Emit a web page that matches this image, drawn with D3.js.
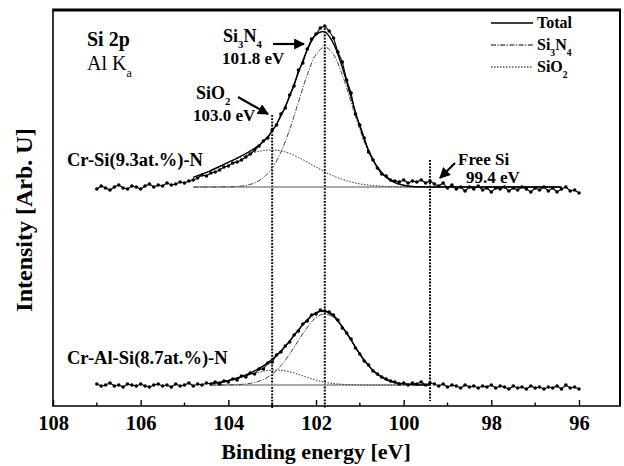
<!DOCTYPE html>
<html>
<head>
<meta charset="utf-8">
<script src="https://cdn.jsdelivr.net/npm/d3@7"></script>
<style>
  body { margin: 0; background: #fff; }
  text { font-family: "Liberation Serif", "Times New Roman", serif; }
</style>
</head>
<body>
<div id="chart"></div>
<script>
// binding energy grid of the measured spectra (eV)
var energy = [
  107.0, 106.9, 106.8, 106.7, 106.6, 106.5, 106.4, 106.3, 106.2, 106.1,
  106.0, 105.9, 105.8, 105.7, 105.6, 105.5, 105.4, 105.3, 105.2, 105.1,
  105.0, 104.9, 104.8, 104.7, 104.6, 104.5, 104.4, 104.3, 104.2, 104.1,
  104.0, 103.9, 103.8, 103.7, 103.6, 103.5, 103.4, 103.3, 103.2, 103.1,
  103.0, 102.9, 102.8, 102.7, 102.6, 102.5, 102.4, 102.3, 102.2, 102.1,
  102.0, 101.9, 101.8, 101.7, 101.6, 101.5, 101.4, 101.3, 101.2, 101.1,
  101.0, 100.9, 100.8, 100.7, 100.6, 100.5, 100.4, 100.3, 100.2, 100.1,
  100.0, 99.9, 99.8, 99.7, 99.6, 99.5, 99.4, 99.3, 99.2, 99.1,
  99.0, 98.9, 98.8, 98.7, 98.6, 98.5, 98.4, 98.3, 98.2, 98.1,
  98.0, 97.9, 97.8, 97.7, 97.6, 97.5, 97.4, 97.3, 97.2, 97.1,
  97.0, 96.9, 96.8, 96.7, 96.6, 96.5, 96.4, 96.3, 96.2, 96.1,
  96.0
];

// Cr-Si(9.3at.%)-N, measured (arb. u.)
var crSiData = [
  217, 220, 218, 216, 219, 221, 218, 217, 220, 219,
  217, 220, 222, 219, 221, 220, 223, 221, 222, 224,
  223, 225, 226, 228, 231, 230, 233, 234, 236, 239,
  240, 243, 244, 246, 249, 252, 256, 260, 265, 268,
  276, 281, 292, 298, 311, 320, 336, 343, 357, 367,
  372, 378, 380, 375, 368, 354, 344, 326, 313, 292,
  281, 268, 254, 246, 238, 232, 230, 226, 225, 224,
  226, 223, 225, 224, 226, 223, 225, 222, 220, 223,
  218, 221, 217, 219, 215, 219, 217, 220, 216, 218,
  214, 218, 217, 219, 215, 218, 216, 219, 217, 214,
  218, 216, 219, 215, 218, 214, 217, 219, 215, 216,
  213
];

// Cr-Al-Si(8.7at.%)-N, measured (arb. u.)
var crAlSiData = [
  22, 20, 21, 23, 20, 21, 19, 22, 21, 20,
  22, 20, 19, 21, 22, 20, 21, 19, 22, 20,
  21, 23, 20, 22, 21, 23, 22, 24, 22, 25,
  24, 27, 26, 30, 29, 33, 32, 37, 37, 43,
  44, 51, 54, 60, 64, 71, 75, 82, 85, 91,
  92, 96, 95, 94, 91, 86, 78, 73, 67, 58,
  52, 45, 41, 35, 32, 29, 27, 25, 24, 22,
  23, 21, 23, 22, 24, 21, 23, 22, 20, 22,
  19, 21, 20, 18, 21, 19, 20, 18, 20, 19,
  21, 18, 20, 19, 17, 20, 18, 19, 17, 20,
  18, 19, 17, 19, 18, 20, 17, 21, 18, 19,
  17
];

// fitted background levels
var crSiBase = 219, crAlSiBase = 21;

// fit of Cr-Si-N (heights above background)
var crSiFitE = [104.8, 104.6, 104.4, 104.2, 104.0, 103.8, 103.6, 103.4, 103.2, 103.0,
  102.8, 102.6, 102.4, 102.2, 102.0, 101.8, 101.6, 101.4, 101.2, 101.0,
  100.8, 100.6, 100.4, 100.2, 100.0, 99.8, 99.6, 99.4, 99.2, 99.0, 98.0, 97.0, 96.4];
var crSiTotal = [9.7, 12.8, 16.5, 20.5, 24.7, 28.9, 33.5, 38.6, 45.6, 55.9,
  71.0, 91.1, 114.5, 137.0, 152.4, 155.2, 143.4, 119.7, 89.9, 60.7,
  36.8, 20.0, 9.8, 4.3, 1.7, 0.5, 0.2, 0, 0, 0, 0, 0, 0];
var crSiSi3N4 = [0, 0, 0, 0.1, 0.2, 0.5, 1.6, 4.0, 9.2, 18.9,
  34.9, 57.6, 84.9, 112.1, 132.4, 140, 132.4, 112.1, 84.9, 57.6,
  34.9, 18.9, 9.2, 4.0, 1.6, 0.5, 0.2, 0, 0, 0, 0, 0, 0];
var crSiSiO2 = [9.7, 12.8, 16.5, 20.4, 24.5, 28.4, 31.9, 34.6, 36.4, 37.0,
  36.1, 33.5, 29.6, 24.9, 20.0, 15.2, 11.0, 7.6, 5.0, 3.1,
  1.9, 1.1, 0.6, 0.3, 0.1, 0, 0, 0, 0, 0, 0, 0, 0];

// fit of Cr-Al-Si-N (heights above background)
var crAlSiFitE = [104.4, 104.2, 104.0, 103.8, 103.6, 103.4, 103.2, 103.0, 102.8, 102.6,
  102.4, 102.2, 102.0, 101.8, 101.6, 101.4, 101.2, 101.0, 100.8, 100.6,
  100.4, 100.2, 100.0, 99.8, 99.6, 99.4];
var crAlSiTotal = [1.5, 2.7, 4.5, 7.0, 10.2, 14.1, 19.2, 25.7, 34.1, 44.1,
  55.2, 65.3, 72.3, 73.8, 68.8, 58.4, 44.9, 31.0, 19.3, 10.9,
  5.5, 2.5, 1.1, 0.4, 0.1, 0];
var crAlSiSi3N4 = [0, 0, 0.1, 0.4, 1.1, 2.5, 5.5, 10.9, 19.3, 30.9,
  44.6, 57.7, 67.4, 71.0, 67.4, 57.7, 44.6, 30.9, 19.3, 10.9,
  5.5, 2.5, 1.1, 0.4, 0.1, 0];
var crAlSiSiO2 = [1.5, 2.7, 4.4, 6.6, 9.1, 11.6, 13.7, 14.8, 14.8, 13.2,
  10.6, 7.6, 4.9, 2.8, 1.4, 0.7, 0.3, 0.1, 0, 0,
  0, 0, 0, 0, 0, 0];

var xTicks = [108, 106, 104, 102, 100, 98, 96];
var xMinor = [107, 105, 103, 101, 99, 97];
// reference positions: energy, top of the dotted line (arb. u.)
var markerE = [103.0, 101.8, 99.4];
var markerTop = [291, 381, 246];

var width = 624, height = 466,
    frame = {left: 53, right: 620, top: 10, bottom: 406};

var svg = d3.select("#chart").append("svg")
    .attr("width", width)
    .attr("height", height);

var x = d3.scaleLinear().domain([108, 96]).range([53, 579]);
var y = d3.scaleLinear().domain([0, 396]).range([frame.bottom, frame.top]);

// frame
svg.append("line").attr("x1", frame.left).attr("x2", frame.left)
    .attr("y1", frame.top).attr("y2", frame.bottom)
    .attr("stroke", "#000").attr("stroke-width", 1.6);
svg.append("line").attr("x1", frame.right).attr("x2", frame.right)
    .attr("y1", frame.top).attr("y2", frame.bottom)
    .attr("stroke", "#000").attr("stroke-width", 2);
svg.append("line").attr("x1", frame.left - 0.8).attr("x2", frame.right + 1)
    .attr("y1", frame.top).attr("y2", frame.top)
    .attr("stroke", "#000").attr("stroke-width", 3);
svg.append("line").attr("x1", frame.left - 0.8).attr("x2", frame.right + 1)
    .attr("y1", frame.bottom).attr("y2", frame.bottom)
    .attr("stroke", "#000").attr("stroke-width", 1.6);

// x axis, ticks pointing inward
var gx = svg.append("g")
    .attr("transform", "translate(0," + frame.bottom + ")")
    .call(d3.axisBottom(x).tickValues(xTicks).tickSize(-6).tickPadding(9)
      .tickFormat(d3.format("d")));
gx.select(".domain").remove();
gx.selectAll(".tick line").attr("stroke-width", 1.4);
gx.selectAll("text")
    .attr("font-family", "Liberation Serif")
    .attr("font-size", 20.5)
    .attr("font-weight", "bold")
    .attr("fill", "#000");

svg.append("g").selectAll("line")
    .data(xMinor).enter().append("line")
    .attr("x1", function(d) { return x(d); })
    .attr("x2", function(d) { return x(d); })
    .attr("y1", frame.bottom)
    .attr("y2", frame.bottom - 3.5)
    .attr("stroke", "#000").attr("stroke-width", 1.4);

// axis titles
svg.append("text")
    .attr("x", 316).attr("y", 459)
    .attr("text-anchor", "middle")
    .attr("font-size", 22).attr("font-weight", "bold")
    .text("Binding energy [eV]");
svg.append("text")
    .attr("transform", "translate(32,220) rotate(-90)")
    .attr("text-anchor", "middle")
    .attr("font-size", 24).attr("font-weight", "bold")
    .text("Intensity [Arb. U]");

// reference lines
svg.append("g").selectAll("line")
    .data(markerE).enter().append("line")
    .attr("x1", function(d) { return x(d); })
    .attr("x2", function(d) { return x(d); })
    .attr("y1", function(d, i) { return y(markerTop[i]); })
    .attr("y2", function(d, i) { return i == 2 ? frame.bottom - 5 : frame.bottom + 3; })
    .attr("stroke", "#000")
    .attr("stroke-width", 2)
    .attr("stroke-dasharray", "1.8,1.4");

function drawSpectrum(data, base, fitE, total, si3n4, sio2) {
  var fitLine = function(vals) {
    return d3.line()
      .x(function(d, i) { return x(fitE[i]); })
      .y(function(d) { return y(base + d); })
      .curve(d3.curveCatmullRom)(vals);
  };
  var g = svg.append("g");

  // background
  g.append("line")
      .attr("x1", x(fitE[0])).attr("x2", x(fitE[fitE.length - 1]))
      .attr("y1", y(base)).attr("y2", y(base))
      .attr("stroke", "#8c8c8c").attr("stroke-width", 1.6);

  g.append("path").attr("d", fitLine(sio2))
      .attr("fill", "none").attr("stroke", "#333")
      .attr("stroke-width", 1).attr("stroke-dasharray", "1.5,1.5");
  g.append("path").attr("d", fitLine(si3n4))
      .attr("fill", "none").attr("stroke", "#444")
      .attr("stroke-width", 1).attr("stroke-dasharray", "5,1.5,1.2,1.5");

  // measured points
  var dataLine = d3.line()
      .x(function(d, i) { return x(energy[i]); })
      .y(function(d) { return y(d); });
  g.append("path").attr("d", dataLine(data))
      .attr("fill", "none").attr("stroke", "#000").attr("stroke-width", 1.1);
  g.selectAll("circle")
      .data(data).enter().append("circle")
      .attr("cx", function(d, i) { return x(energy[i]); })
      .attr("cy", function(d) { return y(d); })
      .attr("r", 1.8)
      .attr("fill", "#000");

  g.append("path").attr("d", fitLine(total))
      .attr("fill", "none").attr("stroke", "#000").attr("stroke-width", 1.4);
}

drawSpectrum(crSiData, crSiBase, crSiFitE, crSiTotal, crSiSi3N4, crSiSiO2);
drawSpectrum(crAlSiData, crAlSiBase, crAlSiFitE, crAlSiTotal, crAlSiSi3N4, crAlSiSiO2);

// arrowhead
svg.append("defs").append("marker")
    .attr("id", "arr")
    .attr("viewBox", "0 0 10 10")
    .attr("refX", 9).attr("refY", 5)
    .attr("markerWidth", 5).attr("markerHeight", 5)
    .attr("orient", "auto")
  .append("path")
    .attr("d", "M0,0 L10,5 L0,10 z")
    .attr("fill", "#000");

function arrow(x1, y1, x2, y2) {
  svg.append("line")
      .attr("x1", x1).attr("y1", y1).attr("x2", x2).attr("y2", y2)
      .attr("stroke", "#000").attr("stroke-width", 2.2)
      .attr("marker-end", "url(#arr)");
}

// text with subscripts: parts = [[text, isSub], ...]
function label(px, py, parts, size, bold) {
  var t = svg.append("text")
      .attr("x", px).attr("y", py)
      .attr("font-size", size)
      .attr("font-weight", bold ? "bold" : "normal");
  var down = false;
  parts.forEach(function(p) {
    var s = t.append("tspan").text(p[0]);
    if (p[1] && !down) { s.attr("dy", size * 0.35).attr("font-size", size * 0.6); down = true; }
    else if (p[1]) { s.attr("font-size", size * 0.6); }
    else if (down) { s.attr("dy", -size * 0.35); down = false; }
  });
  return t;
}

label(87, 46, [["Si 2p"]], 20, true);
label(87, 70, [["Al K"], ["a", true]], 20, false);

label(223, 42, [["Si"], ["3", true], ["N"], ["4", true]], 18, true);
label(222, 64, [["101.8 eV"]], 17, true);
arrow(273, 44, 304, 44);

label(196, 99, [["SiO"], ["2", true]], 18, true);
label(193, 121, [["103.0 eV"]], 17, true);
arrow(238, 97, 268, 114);

label(458, 165, [["Free Si"]], 17, true);
label(466, 183, [["99.4 eV"]], 17, true);
arrow(455, 163, 440, 178);

label(67, 166, [["Cr-Si(9.3at.%)-N"]], 18.5, true);
label(67, 364, [["Cr-Al-Si(8.7at.%)-N"]], 18.5, true);

// legend
var legendNames = [[["Total"]], [["Si"], ["3", true], ["N"], ["4", true]], [["SiO"], ["2", true]]];
var legendDash = [null, "5,1.5,1.2,1.5", "1.5,1.5"];
legendNames.forEach(function(name, i) {
  var ly = 23 + i * 22;
  svg.append("line")
      .attr("x1", 491).attr("x2", 533)
      .attr("y1", ly).attr("y2", ly)
      .attr("stroke", "#000")
      .attr("stroke-width", i == 0 ? 1.3 : 1)
      .attr("stroke-dasharray", legendDash[i]);
  label(537, ly + 5, name, 16, true);
});
</script>
</body>
</html>
